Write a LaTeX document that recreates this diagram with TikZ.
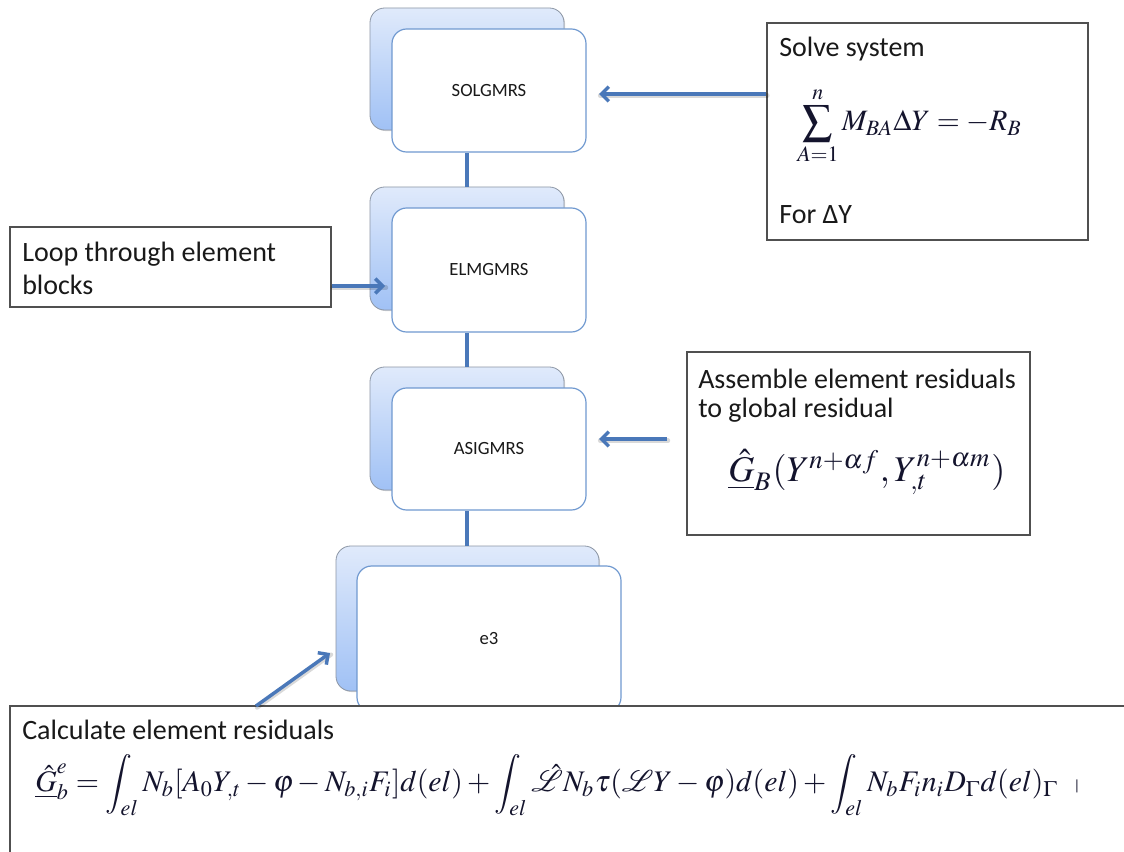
\documentclass[tikz,border=0pt]{standalone}
\usepackage{mathptmx}
\usepackage[no-math]{fontspec}
\setmainfont{Carlito}
\usetikzlibrary{arrows.meta,shadows}

\definecolor{frontedge}{RGB}{112,153,208}
\definecolor{backedge}{RGB}{140,150,165}
\definecolor{backtop}{RGB}{224,234,251}
\definecolor{backbottom}{RGB}{160,193,245}
\definecolor{linkblue}{RGB}{74,120,185}
\definecolor{noteedge}{RGB}{80,80,80}
\definecolor{textcol}{RGB}{25,25,25}
\definecolor{mathcol}{RGB}{20,20,45}

\begin{document}
\begin{tikzpicture}[x=0.75pt,y=-0.75pt,
  backbox/.style={rectangle, rounded corners=11pt, draw=backedge, line width=0.6pt,
    top color=backtop, bottom color=backbottom, inner sep=0pt,
    drop shadow={shadow xshift=0.8pt, shadow yshift=-0.8pt, opacity=0.3, fill=gray}},
  frontbox/.style={rectangle, rounded corners=11pt, draw=frontedge, line width=0.9pt,
    fill=white, inner sep=0pt, text=textcol, font=\fontsize{14}{16}\selectfont},
  notebox/.style={rectangle, draw=noteedge, line width=1pt, fill=white, inner sep=0pt},
  notetext/.style={anchor=base west, inner sep=0pt, text=textcol, font=\fontsize{21}{24}\selectfont},
  formula/.style={anchor=west, inner sep=0pt, text=mathcol},
  link/.style={draw=linkblue, line width=2.5pt},
  pointer/.style={draw=linkblue, line width=2.6pt, -{Straight Barb[length=5.5pt,width=11pt]}},
  pointershadow/.style={draw=black, opacity=0.15, line width=3.2pt, line cap=round,
    transform canvas={shift={(0.8pt,-1.2pt)}}}
]
\useasboundingbox (0,0) rectangle (1124,852);
\clip (0,0) rectangle (1124,852);
\fill[white] (0,0) rectangle (1124,852);

% stacked routine boxes: shaded card behind, white card in front
\node[backbox, minimum width=145.5pt, minimum height=91.5pt] (solback) at (467,69) {};
\node[frontbox, minimum width=145.5pt, minimum height=92.25pt] (sol) at (489,90.5) {SOLGMRS};

\node[backbox, minimum width=145.5pt, minimum height=92.25pt] (elmback) at (467,248.5) {};
\node[frontbox, minimum width=145.5pt, minimum height=93pt] (elm) at (489,270) {ELMGMRS};

\node[backbox, minimum width=145.5pt, minimum height=92.25pt] (asiback) at (467,428.5) {};
\node[frontbox, minimum width=145.5pt, minimum height=91.5pt] (asi) at (489,449) {ASIGMRS};

\node[backbox, minimum width=197.25pt, minimum height=108.75pt] (eback) at (467.5,618.5) {};
\node[frontbox, minimum width=198pt, minimum height=109.5pt] (e3) at (489,639) {e3};

% call chain
\draw[link] (elmback.north) -- (elmback.north |- sol.south);
\draw[link] (asiback.north) -- (asiback.north |- elm.south);
\draw[link] (asiback.north |- eback.north) -- (asiback.north |- asi.south);

% note: solve system
\node[notebox, minimum width=240.75pt, minimum height=162.75pt] (solve) at (927.5,131.5) {};
\node[notetext] (solvetitle) at (779,57) {Solve system};
\node[formula] (solveeq) at (797,125.5)
  {\resizebox{168.75pt}{!}{$\displaystyle\sum_{A=1}^{n} M_{BA}\Delta Y=-R_B$}};
\node[notetext] (solvefor) at (779,224) {For ΔY};

% note: loop over element blocks
\node[notebox, minimum width=240.75pt, minimum height=60pt] (loop) at (170.5,267) {};
\node[notetext] (loop1) at (22,262) {Loop through element};
\node[notetext] (loop2) at (22,295) {blocks};

% note: assembly
\node[notebox, minimum width=257.25pt, minimum height=137.25pt] (assemble) at (858.5,443.5) {};
\node[notetext] (asm1) at (698,388) {Assemble element residuals};
\node[notetext] (asm2) at (698,417) {to global residual};
\node[formula] (asmeq) at (728,472)
  {\resizebox{207.75pt}{!}{$\underline{\hat{G}}_B(Y^{n+\alpha f},Y_{,t}^{n+\alpha m})$}};

% note: element residuals
\node[notebox, minimum width=855pt, minimum height=130.5pt] (calc) at (580,793) {};
\node[notetext] (calctitle) at (22,739) {Calculate element residuals};
\node[formula] (calceq) at (35,785)
  {\resizebox{767.25pt}{!}{$\underline{\hat{G}}^{e}_{b}=\displaystyle\int_{el}N_b[A_0Y_{,t}-\varphi-N_{b,i}F_i]d(el)+\int_{el}\hat{\mathcal{L}}N_b\tau(\mathcal{L}Y-\varphi)d(el)+\int_{el}N_bF_in_iD_\Gamma d(el)_\Gamma$}};
\node[inner sep=0pt, text=mathcol, font=\fontsize{11}{11}\selectfont] (calcbar) at (1077,786) {|};

% pointers from the notes to the routines
\coordinate (solTip) at (599,94);
\draw[pointershadow] (solTip -| solve.west) -- (solTip);
\draw[pointer] (solTip -| solve.west) -- (solTip);

\coordinate (loopTip) at (385,286);
\draw[pointershadow] (loopTip -| loop.east) -- (loopTip);
\draw[pointer] (loopTip -| loop.east) -- (loopTip);

\coordinate (asiTail) at (667,439);
\coordinate (asiTip) at (599,439);
\draw[pointershadow] (asiTail) -- (asiTip);
\draw[pointer] (asiTail) -- (asiTip);

\coordinate (calcTail) at (256,706);
\coordinate (eTip) at (330,653);
\draw[pointershadow] (calcTail) -- (eTip);
\draw[pointer] (calcTail) -- (eTip);
\end{tikzpicture}
\end{document}
